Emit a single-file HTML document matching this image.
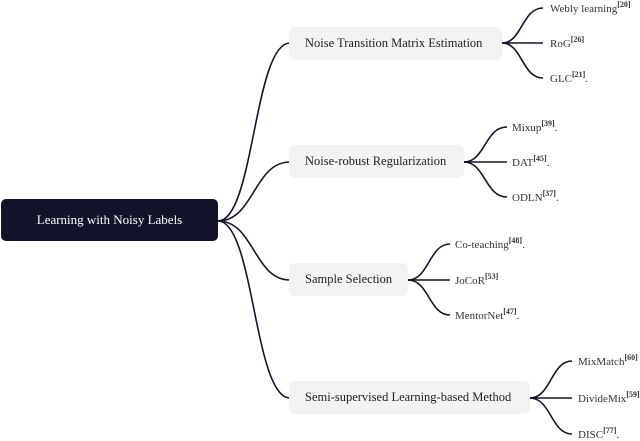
<!DOCTYPE html>
<html><head><style>
body{margin:0;width:640px;height:438px;background:#fff;overflow:hidden;font-family:"Liberation Serif",serif;}
svg{position:absolute;left:0;top:0}
.b{position:absolute;background:#f3f3f3;border-radius:6px;font-size:12.5px;color:#222;line-height:33px;padding-left:16px;box-sizing:border-box;height:33px}
.l{position:absolute;font-size:11px;color:#333;white-space:nowrap}
.l sup{font-size:8px;font-weight:bold;vertical-align:5px}
</style></head><body>
<svg width="640" height="438" fill="none" stroke="#14142a" stroke-width="1.6">
<path d="M218 221 C254 221 254 43 290 43"/>
<path d="M218 221 C254 221 254 162 290 162"/>
<path d="M218 221 C254 221 254 280 290 280"/>
<path d="M218 221 C254 221 254 398 290 398"/>
<path d="M502 43 C522 43 522 8 543 8"/><path d="M502 43 H543"/><path d="M502 43 C522 43 522 78 543 78"/>
<path d="M464 162 C485 162 485 127 507 127"/><path d="M464 162 H507"/><path d="M464 162 C485 162 485 197 507 197"/>
<path d="M408 280 C429 280 429 244 450 244"/><path d="M408 280 H450"/><path d="M408 280 C429 280 429 315 450 315"/>
<path d="M530 398 C551 398 551 361 572 361"/><path d="M530 398 H572"/><path d="M530 398 C551 398 551 434 572 434"/>
</svg>
<div style="position:absolute;left:1px;top:199px;width:217px;height:42px;background:#13132a;border-radius:5px;color:#fff;font-size:13px;line-height:42px;text-align:center">Learning with Noisy Labels</div>
<div class="b" style="left:289px;top:27px;width:213px">Noise Transition Matrix Estimation</div>
<div class="b" style="left:289px;top:145px;width:175px">Noise-robust Regularization</div>
<div class="b" style="left:289px;top:263px;width:119px">Sample Selection</div>
<div class="b" style="left:289px;top:381px;width:241px">Semi-supervised Learning-based Method</div>
<div class="l" style="left:550px;top:0px">Webly learning<sup>[20]</sup></div>
<div class="l" style="left:550px;top:35px">RoG<sup>[26]</sup></div>
<div class="l" style="left:550px;top:70px">GLC<sup>[21]</sup>.</div>
<div class="l" style="left:512px;top:119px">Mixup<sup>[39]</sup>.</div>
<div class="l" style="left:512px;top:154px">DAT<sup>[45]</sup>.</div>
<div class="l" style="left:512px;top:189px">ODLN<sup>[37]</sup>.</div>
<div class="l" style="left:455px;top:236px">Co-teaching<sup>[48]</sup>.</div>
<div class="l" style="left:455px;top:272px">JoCoR<sup>[53]</sup></div>
<div class="l" style="left:455px;top:307px">MentorNet<sup>[47]</sup>.</div>
<div class="l" style="left:578px;top:353px">MixMatch<sup>[60]</sup></div>
<div class="l" style="left:578px;top:390px">DivideMix<sup>[59]</sup></div>
<div class="l" style="left:578px;top:426px">DISC<sup>[77]</sup>.</div>
</body></html>
